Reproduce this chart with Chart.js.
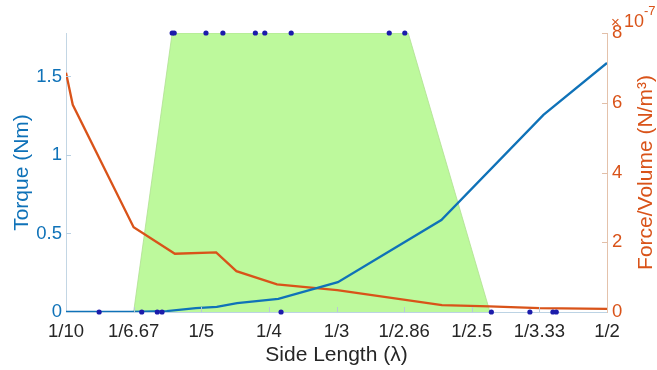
<!DOCTYPE html>
<html>
<head>
<meta charset="utf-8">
<script src="https://cdn.jsdelivr.net/npm/chart.js@4/dist/chart.umd.min.js"></script>
<style>
  html, body { margin: 0; padding: 0; background: #fff; }
  #wrap { width: 657px; height: 370px; position: relative; }
</style>
</head>
<body>
<div id="wrap"><canvas id="c" width="657" height="370"></canvas></div>
<script>
// x axis is index-based: position i corresponds to tickLabels[i]
const tickLabels = ['1/10', '1/6.67', '1/5', '1/4', '1/3', '1/2.86', '1/2.5', '1/3.33', '1/2'];

// Torque (Nm), left axis
const torqueX = [0, 0.96, 1.49, 1.92, 2.23, 2.53, 3.14, 4.02, 5.55, 7.06, 8];
const torqueY = [0, 0.001, 0.006, 0.025, 0.032, 0.057, 0.083, 0.19, 0.586, 1.255, 1.586];

// Force/Volume (x1e-7 N/m^3), right axis
const forceX = [0, 0.10, 1.00, 1.61, 2.22, 2.52, 3.12, 4.01, 5.56, 6.26, 7.00, 8];
const forceY = [6.86, 5.94, 2.43, 1.67, 1.71, 1.17, 0.79, 0.63, 0.20, 0.16, 0.11, 0.09];

// green trapezoid region (right-axis units)
const regionX = [1.00, 1.57, 5.06, 6.27];
const regionY = [0, 8, 8, 0];

// marker dots at top and bottom edges
const topDotsX = [1.57, 1.60, 2.07, 2.32, 2.80, 2.94, 3.33, 4.78, 5.01];
const bottomDotsX = [0.49, 1.12, 1.35, 1.42, 3.18, 6.29, 6.86, 7.20, 7.25];

const leftTicks = [0, 0.5, 1, 1.5];
const rightTicks = [0, 2, 4, 6, 8];

const BLUE = '#0f72b8';
const ORANGE = '#d95319';
const FONT = "'Liberation Sans', Arial, sans-serif";

const zip = (xs, ys) => xs.map((x, i) => ({ x, y: ys[i] }));

const extras = {
  id: 'extras',
  afterDatasetsDraw(chart) {
    const ctx = chart.ctx;
    const xs = chart.scales.x, yl = chart.scales.yL, yr = chart.scales.yR;
    const a = chart.chartArea;
    ctx.save();
    ctx.lineWidth = 1;
    ctx.strokeStyle = '#b8c8d4';
    tickLabels.forEach((_, i) => {
      if (i === 0 || i === tickLabels.length - 1) return;
      const px = Math.round(xs.getPixelForValue(i)) + 0.5;
      ctx.beginPath(); ctx.moveTo(px, a.bottom); ctx.lineTo(px, a.bottom - 5); ctx.stroke();
    });
    ctx.strokeStyle = '#b9d0e2';
    leftTicks.forEach(v => {
      if (v === 0) return;
      const py = Math.round(yl.getPixelForValue(v)) + 0.5;
      ctx.beginPath(); ctx.moveTo(a.left, py); ctx.lineTo(a.left + 5, py); ctx.stroke();
    });
    ctx.strokeStyle = '#e2bfa8';
    rightTicks.forEach(v => {
      if (v === 0) return;
      const py = Math.round(yr.getPixelForValue(v)) + 0.5;
      ctx.beginPath(); ctx.moveTo(a.right, py); ctx.lineTo(a.right - 5, py); ctx.stroke();
    });
    ctx.restore();
  },
  afterDraw(chart) {
    const ctx = chart.ctx;
    const a = chart.chartArea;
    ctx.save();
    ctx.fillStyle = ORANGE;
    ctx.translate(646, (a.top + a.bottom) / 2);
    ctx.rotate(-Math.PI / 2);
    ctx.font = '21px ' + FONT;
    ctx.textAlign = 'center';
    ctx.textBaseline = 'middle';
    ctx.fillText('Force/Volume (N/m\u00B3)', 0, 0);
    ctx.restore();
    ctx.save();
    ctx.fillStyle = ORANGE;
    ctx.textBaseline = 'alphabetic';
    ctx.textAlign = 'left';
    ctx.font = '15px ' + FONT;
    ctx.fillText('\u00D7', 611, 27);
    ctx.font = '18px ' + FONT;
    ctx.fillText('10', 624, 27);
    ctx.font = '13px ' + FONT;
    ctx.fillText('-7', 644, 15);
    ctx.restore();
  }
};

new Chart(document.getElementById('c'), {
  type: 'line',
  data: {
    datasets: [
      {
        label: 'dotsTop', data: topDotsX.map(x => ({ x, y: 8 })), yAxisID: 'yR',
        showLine: false, pointRadius: 2.6, pointBackgroundColor: '#1c1cab',
        pointBorderWidth: 0, clip: false, order: 1
      },
      {
        label: 'dotsBottom', data: bottomDotsX.map(x => ({ x, y: 0 })), yAxisID: 'yR',
        showLine: false, pointRadius: 2.6, pointBackgroundColor: '#1c1cab',
        pointBorderWidth: 0, clip: false, order: 1
      },
      {
        label: 'Torque', data: zip(torqueX, torqueY), yAxisID: 'yL',
        borderColor: BLUE, borderWidth: 2.3, pointRadius: 0, tension: 0, fill: false, order: 2
      },
      {
        label: 'Force', data: zip(forceX, forceY), yAxisID: 'yR',
        borderColor: ORANGE, borderWidth: 2.3, pointRadius: 0, tension: 0, fill: false, order: 3
      },
      {
        label: 'Region', data: zip(regionX, regionY), yAxisID: 'yR',
        borderColor: '#b0e092', borderWidth: 0.8, backgroundColor: '#bdf99c',
        pointRadius: 0, tension: 0, fill: 'origin', order: 10
      }
    ]
  },
  options: {
    responsive: false,
    animation: false,
    events: [],
    layout: { padding: { top: 33, left: 0, right: 0, bottom: 0 } },
    plugins: { legend: { display: false }, tooltip: { enabled: false } },
    scales: {
      x: {
        type: 'linear', min: 0, max: 8,
        afterBuildTicks: s => { s.ticks = tickLabels.map((_, i) => ({ value: i })); },
        afterFit: s => { s.height = 58; },
        ticks: {
          autoSkip: false, maxRotation: 0, padding: 9,
          color: '#262626', font: { family: FONT, size: 18.5 },
          callback: v => tickLabels[v]
        },
        grid: { display: true, drawOnChartArea: false, drawTicks: false },
        border: { display: true, color: '#bcd3e4', width: 1 },
        title: {
          display: true, text: 'Side Length (\u03BB)', color: '#262626',
          font: { family: FONT, size: 21 }, padding: { top: 0, bottom: 2 }
        }
      },
      yL: {
        type: 'linear', position: 'left', min: 0, max: 1.777,
        afterBuildTicks: s => { s.ticks = leftTicks.map(v => ({ value: v })); },
        afterFit: s => { s.width = 66; },
        ticks: { padding: 4, color: BLUE, font: { family: FONT, size: 18.5 }, callback: v => String(v) },
        grid: { display: true, drawOnChartArea: false, drawTicks: false },
        border: { display: true, color: '#c3d6e4', width: 1 },
        title: {
          display: true, text: 'Torque (Nm)', color: BLUE,
          font: { family: FONT, size: 21 }, padding: { top: 10, bottom: 0 }
        }
      },
      yR: {
        type: 'linear', position: 'right', min: 0, max: 8,
        afterBuildTicks: s => { s.ticks = rightTicks.map(v => ({ value: v })); },
        afterFit: s => { s.width = 50; },
        ticks: { padding: 5, color: ORANGE, font: { family: FONT, size: 18.5 }, callback: v => String(v) },
        grid: { display: true, drawOnChartArea: false, drawTicks: false },
        border: { display: true, color: '#e4c2ab', width: 1 }
      }
    }
  },
  plugins: [extras]
});
</script>
</body>
</html>
